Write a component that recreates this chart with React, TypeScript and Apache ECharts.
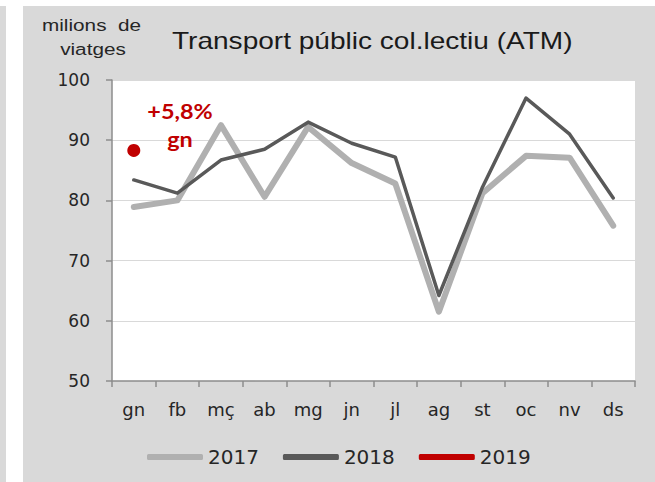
import React, { useEffect, useRef } from "react";
import * as echarts from "echarts";

const months = ["gn", "fb", "mç", "ab", "mg", "jn", "jl", "ag", "st", "oc", "nv", "ds"];
const v2017 = [78.9, 80.0, 92.5, 80.6, 92.2, 86.2, 82.8, 61.5, 81.2, 87.4, 87.1, 75.8];
const v2018 = [83.4, 81.2, 86.7, 88.5, 93.0, 89.5, 87.2, 64.2, 82.2, 97.0, 91.0, 80.4];
const v2019: (number | null)[] = [88.3, null, null, null, null, null, null, null, null, null, null, null];
const yTicks = { min: 50, max: 100, interval: 10 };

export default function App() {
  const ref = useRef<HTMLDivElement>(null);
  useEffect(() => {
    if (!ref.current) return;
    const chart = echarts.init(ref.current, undefined, { renderer: "svg" });
    const labelFont = "'DejaVu Sans', 'Open Sans', sans-serif";
    const annFont = "Lato, 'Noto Sans', sans-serif";
    const titleFont = "'Liberation Sans', Arial, sans-serif";
    chart.setOption({
      animation: false,
      backgroundColor: "#ffffff",
      graphic: [
        { type: "rect", silent: true, z: -10, shape: { x: 0, y: 6, width: 6, height: 476 }, style: { fill: "#d9d9d9" } },
        { type: "rect", silent: true, z: -10, shape: { x: 23, y: 6, width: 632, height: 476 }, style: { fill: "#d9d9d9" } },
        {
          type: "text", x: 42, y: 25, scaleX: 1.22, z: 10,
          style: { text: "milions  de", fill: "#262626", font: "17px " + titleFont, textVerticalAlign: "middle" },
        },
        {
          type: "text", x: 93, y: 49, scaleX: 1.22, z: 10,
          style: { text: "viatges", fill: "#262626", font: "17px " + titleFont, textAlign: "center", textVerticalAlign: "middle" },
        },
        {
          type: "text", x: 172, y: 41, scaleX: 1.22, z: 10,
          style: { text: "Transport públic col.lectiu (ATM)", fill: "#1a1a1a", font: "23px " + titleFont, textVerticalAlign: "middle" },
        },
        {
          type: "text", x: 180, y: 126, scaleX: 1.17, z: 10,
          style: { text: "+5,8%\ngn", fill: "#c00000", font: "bold 20px " + annFont, textAlign: "center", textVerticalAlign: "middle", lineHeight: 28 },
        },
      ],
      legend: {
        left: 142,
        top: 442,
        icon: "roundRect",
        itemWidth: 56,
        itemHeight: 6,
        itemGap: 24,
        textStyle: { fontSize: 20, color: "#262626", fontFamily: labelFont },
        data: ["2017", "2018", "2019"],
      },
      grid: { left: 112, right: 20, top: 80, bottom: 101, show: true, backgroundColor: "#ffffff", borderWidth: 0 },
      xAxis: {
        type: "category",
        data: months,
        boundaryGap: true,
        axisLine: { lineStyle: { color: "#8c8c8c", width: 1.5 } },
        axisTick: { show: true, length: 6, lineStyle: { color: "#8c8c8c", width: 1.5 } },
        axisLabel: { fontSize: 18, color: "#262626", fontFamily: labelFont, margin: 19 },
      },
      yAxis: {
        type: "value",
        min: yTicks.min,
        max: yTicks.max,
        interval: yTicks.interval,
        axisLine: { show: true, lineStyle: { color: "#8c8c8c", width: 1.5 } },
        axisTick: { show: true, length: 6, lineStyle: { color: "#8c8c8c", width: 1.5 } },
        axisLabel: { fontSize: 17, color: "#262626", fontFamily: labelFont, margin: 22 },
        splitLine: { lineStyle: { color: "#d9d9d9", width: 1 } },
      },
      series: [
        {
          name: "2017", type: "line", data: v2017, showSymbol: false, symbol: "none",
          lineStyle: { color: "#b0b0b0", width: 6, cap: "round", join: "round" }, itemStyle: { color: "#b0b0b0" }, z: 2,
        },
        {
          name: "2018", type: "line", data: v2018, showSymbol: false, symbol: "none",
          lineStyle: { color: "#595959", width: 3.5, cap: "round", join: "round" }, itemStyle: { color: "#595959" }, z: 3,
        },
        {
          name: "2019", type: "line", data: v2019, symbol: "circle", symbolSize: 13, showSymbol: true,
          lineStyle: { color: "#c00000", width: 5 }, itemStyle: { color: "#c00000" }, z: 4,
        },
      ],
    });
    return () => chart.dispose();
  }, []);
  return <div ref={ref} style={{ position: "absolute", left: 0, top: 0, width: 655, height: 482 }} />;
}
